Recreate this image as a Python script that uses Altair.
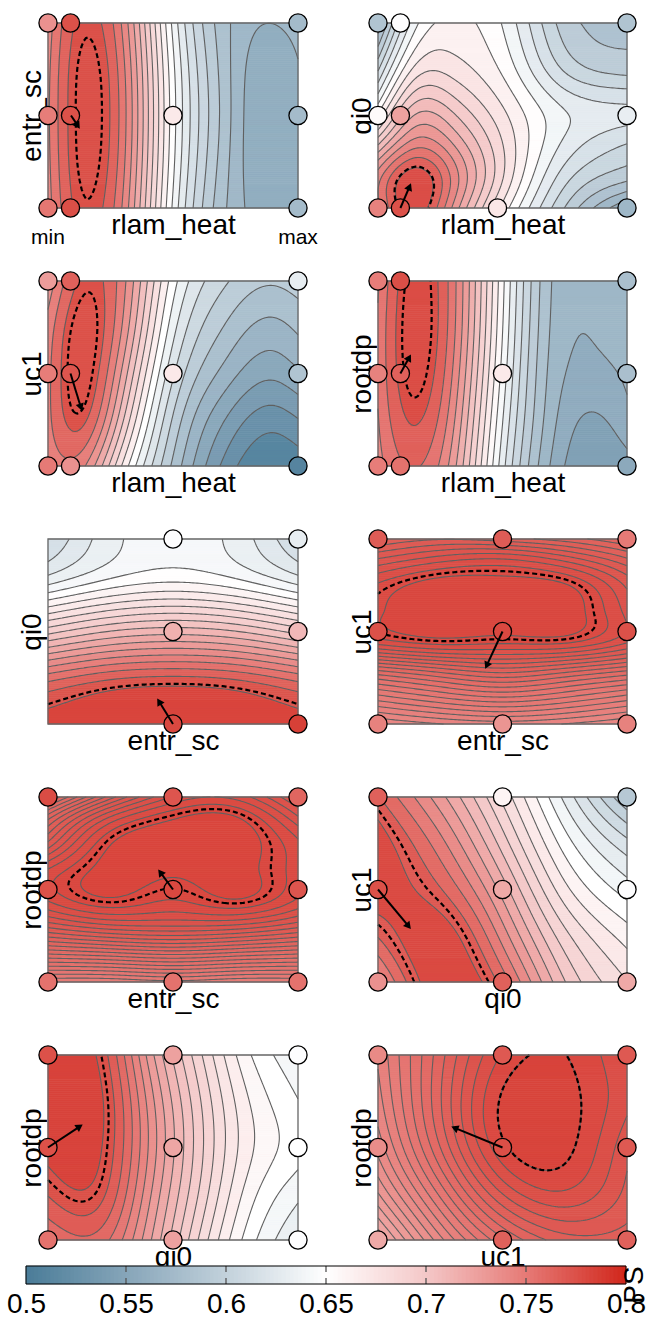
import numpy as np
import pandas as pd
import altair as alt

# ---------------- data ----------------
X_NAMES = ["rlam_heat", "rlam_heat", "rlam_heat", "rlam_heat", "entr_sc",
           "entr_sc", "entr_sc", "qi0", "qi0", "uc1"]
Y_NAMES = ["entr_sc", "qi0", "uc1", "rootdp", "qi0",
           "uc1", "rootdp", "uc1", "rootdp", "rootdp"]

# emulated PS surface at a few nodes (rows: y from 0 to 1)
SURF_XN = [
    [0, 0.13, 0.3, 0.5, 0.7, 0.87, 1],
    [0, 0.15, 0.3, 0.5, 0.75, 1],
    [0, 0.13, 0.3, 0.5, 0.7, 0.9, 1],
    [0, 0.13, 0.3, 0.5, 0.7, 0.88, 1],
    [0, 0.25, 0.5, 0.75, 1],
    [0, 0.25, 0.5, 0.75, 1],
    [0, 0.25, 0.5, 0.75, 1],
    [0, 0.25, 0.5, 0.75, 1],
    [0, 0.2, 0.4, 0.6, 0.8, 1],
    [0, 0.25, 0.5, 0.75, 1],
]
SURF_YN = [
    [0, 0.25, 0.5, 0.75, 1],
    [0, 0.15, 0.35, 0.5, 0.75, 1],
    [0, 0.25, 0.5, 0.75, 1],
    [0, 0.25, 0.5, 0.75, 1],
    [0, 0.2, 0.4, 0.6, 0.8, 1],
    [0, 0.15, 0.3, 0.45, 0.6, 0.75, 0.9, 1],
    [0, 0.15, 0.3, 0.45, 0.6, 0.75, 0.9, 1],
    [0, 0.25, 0.5, 0.75, 1],
    [0, 0.25, 0.5, 0.75, 1],
    [0, 0.25, 0.5, 0.75, 1],
]
SURF_PS = [
    [[0.742, 0.774, 0.745, 0.643, 0.580, 0.560, 0.565],
     [0.744, 0.778, 0.750, 0.648, 0.583, 0.556, 0.563],
     [0.745, 0.779, 0.752, 0.650, 0.585, 0.555, 0.563],
     [0.744, 0.778, 0.750, 0.648, 0.584, 0.558, 0.565],
     [0.741, 0.773, 0.744, 0.642, 0.582, 0.566, 0.570]],
    [[0.745, 0.778, 0.735, 0.665, 0.600, 0.555],
     [0.745, 0.780, 0.745, 0.680, 0.615, 0.590],
     [0.700, 0.742, 0.725, 0.680, 0.632, 0.612],
     [0.660, 0.715, 0.705, 0.672, 0.636, 0.626],
     [0.610, 0.672, 0.675, 0.655, 0.610, 0.596],
     [0.568, 0.642, 0.660, 0.645, 0.595, 0.590]],
    [[0.745, 0.745, 0.668, 0.585, 0.530, 0.505, 0.510],
     [0.750, 0.772, 0.700, 0.600, 0.548, 0.525, 0.532],
     [0.750, 0.781, 0.722, 0.618, 0.570, 0.550, 0.558],
     [0.745, 0.780, 0.738, 0.635, 0.588, 0.570, 0.577],
     [0.730, 0.770, 0.745, 0.650, 0.605, 0.590, 0.595]],
    [[0.742, 0.760, 0.728, 0.630, 0.562, 0.540, 0.546],
     [0.746, 0.772, 0.738, 0.638, 0.568, 0.5505, 0.5605],
     [0.748, 0.780, 0.746, 0.645, 0.572, 0.5612, 0.566],
     [0.748, 0.782, 0.751, 0.650, 0.5745, 0.5655, 0.569],
     [0.745, 0.780, 0.752, 0.653, 0.576, 0.567, 0.571]],
    [[0.782, 0.785, 0.786, 0.785, 0.782],
     [0.765, 0.775, 0.778, 0.775, 0.765],
     [0.720, 0.732, 0.736, 0.732, 0.720],
     [0.672, 0.685, 0.690, 0.685, 0.672],
     [0.630, 0.645, 0.651, 0.645, 0.630],
     [0.612, 0.635, 0.643, 0.635, 0.612]],
    [[0.740, 0.742, 0.743, 0.742, 0.740],
     [0.750, 0.753, 0.755, 0.753, 0.750],
     [0.762, 0.765, 0.767, 0.765, 0.762],
     [0.777, 0.779, 0.7785, 0.7785, 0.7740],
     [0.7795, 0.7815, 0.7815, 0.7812, 0.775],
     [0.778, 0.781, 0.7808, 0.7800, 0.773],
     [0.771, 0.774, 0.775, 0.772, 0.767],
     [0.765, 0.767, 0.766, 0.764, 0.761]],
    [[0.748, 0.748, 0.749, 0.748, 0.748],
     [0.760, 0.761, 0.762, 0.761, 0.760],
     [0.771, 0.7735, 0.774, 0.7735, 0.771],
     [0.778, 0.781, 0.7795, 0.7812, 0.7775],
     [0.778, 0.782, 0.7815, 0.782, 0.7785],
     [0.771, 0.781, 0.7825, 0.7825, 0.778],
     [0.764, 0.7755, 0.7805, 0.781, 0.774],
     [0.756, 0.768, 0.776, 0.777, 0.770]],
    [[0.738, 0.783, 0.760, 0.705, 0.675],
     [0.765, 0.781, 0.740, 0.688, 0.660],
     [0.781, 0.765, 0.720, 0.668, 0.640],
     [0.781, 0.748, 0.700, 0.650, 0.618],
     [0.765, 0.728, 0.682, 0.632, 0.585]],
    [[0.755, 0.760, 0.727, 0.685, 0.650, 0.630],
     [0.772, 0.775, 0.735, 0.693, 0.658, 0.640],
     [0.782, 0.781, 0.740, 0.697, 0.664, 0.649],
     [0.783, 0.782, 0.738, 0.695, 0.662, 0.646],
     [0.782, 0.778, 0.730, 0.688, 0.655, 0.640]],
    [[0.718, 0.740, 0.757, 0.766, 0.766],
     [0.731, 0.752, 0.771, 0.777, 0.770],
     [0.739, 0.761, 0.780, 0.782, 0.772],
     [0.743, 0.764, 0.7815, 0.7825, 0.775],
     [0.745, 0.763, 0.778, 0.781, 0.774]],
]

# design points (normalised position, PS value)
PT_X = [
    [0, 0.09, 1, 0, 0.09, 0.5, 1, 0, 0.09, 1],
    [0, 0.09, 1, 0, 0.09, 1, 0, 0.09, 0.48, 1],
    [0, 0.09, 1, 0, 0.09, 0.5, 1, 0, 0.09, 1],
    [0, 0.09, 1, 0, 0.09, 0.5, 1, 0, 0.09, 1],
    [0.5, 1, 0.5, 1, 0.5, 1],
    [0, 0.5, 1, 0, 0.5, 1, 0, 0.5, 1],
    [0, 0.5, 1, 0, 0.5, 1, 0, 0.5, 1],
    [0, 0.5, 1, 0, 0.5, 1, 0, 0.5, 1],
    [0, 0.5, 1, 0, 0.5, 1, 0, 0.5, 1],
    [0, 0.5, 1, 0, 0.5, 1, 0, 0.5, 1],
]
PT_Y = [
    [1, 1, 1, 0.5, 0.5, 0.5, 0.5, 0, 0, 0],
    [1, 1, 1, 0.5, 0.5, 0.5, 0, 0, 0, 0],
    [1, 1, 1, 0.5, 0.5, 0.5, 0.5, 0, 0, 0],
    [1, 1, 1, 0.5, 0.5, 0.5, 0.5, 0, 0, 0],
    [1, 1, 0.5, 0.5, 0, 0],
    [1, 1, 1, 0.5, 0.5, 0.5, 0, 0, 0],
    [1, 1, 1, 0.5, 0.5, 0.5, 0, 0, 0],
    [1, 1, 1, 0.5, 0.5, 0.5, 0, 0, 0],
    [1, 1, 1, 0.5, 0.5, 0.5, 0, 0, 0],
    [1, 1, 1, 0.5, 0.5, 0.5, 0, 0, 0],
]
PT_PS = [
    [0.735, 0.775, 0.575, 0.748, 0.775, 0.670, 0.575, 0.752, 0.776, 0.575],
    [0.585, 0.648, 0.585, 0.655, 0.725, 0.632, 0.745, 0.775, 0.672, 0.570],
    [0.728, 0.765, 0.630, 0.748, 0.772, 0.670, 0.585, 0.750, 0.735, 0.510],
    [0.748, 0.776, 0.580, 0.745, 0.765, 0.670, 0.580, 0.748, 0.755, 0.555],
    [0.648, 0.630, 0.715, 0.710, 0.780, 0.785],
    [0.768, 0.768, 0.750, 0.775, 0.780, 0.775, 0.745, 0.733, 0.745],
    [0.778, 0.772, 0.762, 0.775, 0.780, 0.772, 0.755, 0.755, 0.755],
    [0.765, 0.660, 0.590, 0.775, 0.720, 0.648, 0.735, 0.765, 0.720],
    [0.775, 0.725, 0.648, 0.775, 0.722, 0.650, 0.755, 0.725, 0.648],
    [0.740, 0.770, 0.770, 0.738, 0.776, 0.770, 0.720, 0.765, 0.765],
]

# gradient arrows
ARROW_X0 = [0.092, 0.09, 0.09, 0.09, 0.5, 0.5, 0.5, 0.0, 0.0, 0.5]
ARROW_Y0 = [0.5, 0.0, 0.5, 0.5, 0.0, 0.5, 0.5, 0.5, 0.5, 0.5]
ARROW_X1 = [0.128, 0.133, 0.136, 0.133, 0.436, 0.43, 0.44, 0.133, 0.14, 0.293]
ARROW_Y1 = [0.427, 0.135, 0.297, 0.605, 0.14, 0.297, 0.61, 0.285, 0.625, 0.614]

# dashed contour: offset from the top band boundary, in band steps
DASH_OFFSET = [0.6, -0.1, 0.5, 0.5, -0.2, -0.4, -0.4, -0.4, -0.4, 0.0]

CMAP_STOPS = [0.5, 0.55, 0.6, 0.65, 0.7, 0.75, 0.8]
CMAP_COLORS = ["#4a7c98", "#86a5b9", "#c2d1db", "#ffffff", "#f4c8c8", "#e67a76", "#d1271c"]
CB_TICKS = [0.5, 0.55, 0.6, 0.65, 0.7, 0.75, 0.8]
END_LABELS = ["min", "max"]

# ---------------- helpers ----------------
NBANDS = 20
NXC, NYC = 120, 90
NXF, NYF = 250, 92
PANEL_W = [250, 249]
PANEL_H = 185
FONT = "Liberation Sans"
TITLE_SIZE = 28


def nat_spline(xn, yn, xq):
    xn = np.asarray(xn, float)
    yn = np.asarray(yn, float)
    n = len(xn)
    h = np.diff(xn)
    A = np.zeros((n, n))
    b = np.zeros(n)
    A[0, 0] = 1
    A[-1, -1] = 1
    for i in range(1, n - 1):
        A[i, i - 1] = h[i - 1]
        A[i, i] = 2 * (h[i - 1] + h[i])
        A[i, i + 1] = h[i]
        b[i] = 6 * ((yn[i + 1] - yn[i]) / h[i] - (yn[i] - yn[i - 1]) / h[i - 1])
    M = np.linalg.solve(A, b)
    xq = np.asarray(xq, float)
    idx = np.clip(np.searchsorted(xn, xq) - 1, 0, n - 2)
    x0 = xn[idx]
    x1 = xn[idx + 1]
    hh = x1 - x0
    return (M[idx] * (x1 - xq) ** 3 / (6 * hh) + M[idx + 1] * (xq - x0) ** 3 / (6 * hh)
            + (yn[idx] / hh - M[idx] * hh / 6) * (x1 - xq)
            + (yn[idx + 1] / hh - M[idx + 1] * hh / 6) * (xq - x0))


def surface(xn, yn, Z, xq, yq):
    Z = np.asarray(Z, float)
    tmp = np.array([nat_spline(xn, row, xq) for row in Z])
    out = np.array([nat_spline(yn, tmp[:, k], yq) for k in range(len(xq))]).T
    return out


def contour_paths(Z, xs, ys, level):
    B = Z > level
    idx = B[:-1, :-1] * 1 + B[:-1, 1:] * 2 + B[1:, 1:] * 4 + B[1:, :-1] * 8
    js, iis = np.nonzero((idx != 0) & (idx != 15))
    adj = {}

    def link(a, b):
        adj.setdefault(a, []).append(b)
        adj.setdefault(b, []).append(a)

    for j, i in zip(js, iis):
        b00 = B[j, i]; b10 = B[j, i + 1]; b11 = B[j + 1, i + 1]; b01 = B[j + 1, i]
        bottom = ("h", j, i); top = ("h", j + 1, i)
        left = ("v", j, i); right = ("v", j, i + 1)
        cross = []
        if b00 != b10: cross.append(bottom)
        if b10 != b11: cross.append(right)
        if b11 != b01: cross.append(top)
        if b01 != b00: cross.append(left)
        if len(cross) == 2:
            link(cross[0], cross[1])
        else:
            c = (Z[j, i] + Z[j, i + 1] + Z[j + 1, i + 1] + Z[j + 1, i]) / 4 > level
            if b00 != c: link(bottom, left)
            if b10 != c: link(bottom, right)
            if b11 != c: link(top, right)
            if b01 != c: link(top, left)

    def pos(e):
        t_, j, i = e
        if t_ == "h":
            z0, z1 = Z[j, i], Z[j, i + 1]
            t = (level - z0) / (z1 - z0)
            return xs[i] + t * (xs[i + 1] - xs[i]), ys[j]
        z0, z1 = Z[j, i], Z[j + 1, i]
        t = (level - z0) / (z1 - z0)
        return xs[i], ys[j] + t * (ys[j + 1] - ys[j])

    visited = set()
    paths = []
    starts = [e for e in adj if len(adj[e]) == 1] + list(adj.keys())
    for s in starts:
        if s in visited:
            continue
        path = [s]
        visited.add(s)
        cur = s
        while True:
            nxt = [n for n in adj[cur] if n not in visited]
            if not nxt:
                if len(path) > 2 and s in adj[cur]:
                    path.append(s)
                break
            cur = nxt[0]
            visited.add(cur)
            path.append(cur)
        paths.append([pos(e) for e in path])
    return paths


CSCALE = alt.Scale(domain=CMAP_STOPS, range=CMAP_COLORS, interpolate="rgb", clamp=True)
XS = alt.Scale(domain=[0, 1], nice=False, zero=False)
YS = alt.Scale(domain=[0, 1], nice=False, zero=False)


def x_axis(title):
    return alt.Axis(title=title, labels=False, ticks=False, domain=False, grid=False,
                    titleFontSize=TITLE_SIZE, titleFont=FONT, titleFontWeight="normal",
                    titleColor="black", titlePadding=3)


def y_axis(title):
    return alt.Axis(title=title, labels=False, ticks=False, domain=False, grid=False,
                    titleFontSize=TITLE_SIZE, titleFont=FONT, titleFontWeight="normal",
                    titleColor="black", titlePadding=2)


def build_panel(k):
    col = k % 2
    W = PANEL_W[col]
    H = PANEL_H
    xn, yn, zz = SURF_XN[k], SURF_YN[k], SURF_PS[k]
    xs = np.linspace(0, 1, NXC)
    ys = np.linspace(0, 1, NYC)
    Zc = surface(xn, yn, zz, xs, ys)
    xf = (np.arange(NXF) + 0.5) / NXF
    yf = (np.arange(NYF) + 0.5) / NYF
    Zf = surface(xn, yn, zz, xf, yf)
    fmin = min(Zc.min(), Zf.min())
    fmax = max(Zc.max(), Zf.max())
    lev = np.linspace(fmin, fmax, NBANDS + 1)
    step = lev[1] - lev[0]
    mids = (lev[:-1] + lev[1:]) / 2
    band = np.clip(np.searchsorted(lev, Zf, side="right") - 1, 0, NBANDS - 1)

    rects = []
    for j in range(NYF):
        row = band[j]
        start = 0
        for i in range(1, NXF + 1):
            if i == NXF or row[i] != row[start]:
                rects.append((start / NXF, i / NXF, j / NYF, (j + 1) / NYF,
                              round(float(mids[row[start]]), 5)))
                start = i
    df_fill = pd.DataFrame(rects, columns=["x", "x2", "y", "y2", "v"])

    lrows = []
    for li, L in enumerate(lev[1:-1]):
        for pi, path in enumerate(contour_paths(Zc, xs, ys, L)):
            for o, (px, py) in enumerate(path):
                lrows.append((round(float(px), 4), round(float(py), 4), f"{li}_{pi}", o))
    df_lines = pd.DataFrame(lrows, columns=["x", "y", "g", "o"])

    dl = lev[-2] + DASH_OFFSET[k] * step
    drows = []
    for pi, path in enumerate(contour_paths(Zc, xs, ys, dl)):
        for o, (px, py) in enumerate(path):
            drows.append((round(float(px), 4), round(float(py), 4), f"d{pi}", o))
    df_dash = pd.DataFrame(drows, columns=["x", "y", "g", "o"])

    df_pts = pd.DataFrame({"x": PT_X[k], "y": PT_Y[k], "v": PT_PS[k]})

    x0, y0, x1, y1 = ARROW_X0[k], ARROW_Y0[k], ARROW_X1[k], ARROW_Y1[k]
    dxp = (x1 - x0) * W
    dyp = (y1 - y0) * H
    L = np.hypot(dxp, dyp)
    ux, uy = dxp / L, dyp / L
    back = 4.0
    hx = x1 - back * ux / W
    hy = y1 - back * uy / H
    ang = float(np.degrees(np.arctan2(dxp, dyp)) % 360)
    df_arrow = pd.DataFrame({"x": [x0], "y": [y0], "x2": [hx], "y2": [hy], "ang": [ang]})

    xa = x_axis(X_NAMES[k])
    ya = y_axis(Y_NAMES[k])

    def X(f="x"):
        return alt.X(f, type="quantitative", scale=XS, axis=xa)

    def Y(f="y"):
        return alt.Y(f, type="quantitative", scale=YS, axis=ya)

    fill = alt.Chart(df_fill).mark_rect(strokeWidth=0.8).encode(
        x=X(), x2="x2", y=Y(), y2="y2",
        color=alt.Color("v:Q", scale=CSCALE, legend=None),
        stroke=alt.Stroke("v:Q", scale=CSCALE, legend=None),
    )
    lines = alt.Chart(df_lines).mark_line(color="#606060", strokeWidth=1.1).encode(
        x=X(), y=Y(), detail="g:N", order="o:Q")
    dash = alt.Chart(df_dash).mark_line(color="black", strokeWidth=2.2, strokeDash=[5, 3]).encode(
        x=X(), y=Y(), detail="g:N", order="o:Q")
    frame = alt.Chart(pd.DataFrame({"x": [0], "x2": [1], "y": [0], "y2": [1]})).mark_rect(
        fillOpacity=0, stroke="#666666", strokeWidth=1.3).encode(x=X(), x2="x2", y=Y(), y2="y2")
    pts = alt.Chart(df_pts).mark_circle(size=330, stroke="black", strokeWidth=1.3, opacity=1).encode(
        x=X(), y=Y(), color=alt.Color("v:Q", scale=CSCALE, legend=None))
    arr = alt.Chart(df_arrow).mark_rule(color="black", strokeWidth=2).encode(
        x=X(), y=Y(), x2="x2", y2="y2")
    head = alt.Chart(df_arrow).mark_point(shape="triangle-up", filled=True, color="black",
                                          size=70, opacity=1).encode(
        x=X("x2"), y=Y("y2"), angle=alt.Angle("ang:Q", scale=None))
    layers = [fill, lines, dash, frame, pts, arr, head]
    if k == 0:
        df_end = pd.DataFrame({"x": [0, 1], "y": [0, 0], "t": END_LABELS})
        ends = alt.Chart(df_end).mark_text(fontSize=21, font=FONT, baseline="alphabetic",
                                           align="center", dy=36, color="black").encode(
            x=X(), y=Y(), text="t:N")
        layers.append(ends)
    return alt.layer(*layers).properties(width=W, height=H)


panels = [build_panel(k) for k in range(10)]

# ---------------- colorbar (11th cell of the grid, drawn 47 px higher) ----------------
cb_edges = np.linspace(CB_TICKS[0], CB_TICKS[-1], 151)
df_cb = pd.DataFrame({"x": cb_edges[:-1], "x2": cb_edges[1:], "y": 0.0, "y2": 1.0,
                      "v": (cb_edges[:-1] + cb_edges[1:]) / 2})
CBX = alt.Scale(domain=[CB_TICKS[0], CB_TICKS[-1]], range=[-22, 578], nice=False, zero=False)
CBY = alt.Scale(domain=[0, 1], range=[-29, -47], nice=False, zero=False)
cb_axis = alt.Axis(values=CB_TICKS, format=".2~f", labelFontSize=28, labelFont=FONT,
                   labelColor="black", ticks=False, domain=False, grid=False,
                   labelPadding=6, title="", labelFlush=False, offset=-47)


def CX(f="x"):
    return alt.X(f, type="quantitative", scale=CBX, axis=cb_axis)


def CY(f="y"):
    return alt.Y(f, type="quantitative", scale=CBY, axis=None)


cb_fill = alt.Chart(df_cb).mark_rect(strokeWidth=0.5).encode(
    x=CX(), x2="x2", y=CY(), y2="y2",
    color=alt.Color("v:Q", scale=CSCALE, legend=None),
    stroke=alt.Stroke("v:Q", scale=CSCALE, legend=None))
cb_ticks = alt.Chart(pd.DataFrame({"x": CB_TICKS[1:-1], "y": 1.0, "y2": 0.0})).mark_rule(
    color="#555555", strokeWidth=1.3, strokeDash=[6, 6]).encode(x=CX(), y=CY(), y2="y2")
cb_frame = alt.Chart(pd.DataFrame({"x": [CB_TICKS[0]], "x2": [CB_TICKS[-1]],
                                   "y": [0.0], "y2": [1.0]})).mark_rect(
    fillOpacity=0, stroke="black", strokeWidth=1).encode(x=CX(), x2="x2", y=CY(), y2="y2")
cb_title = alt.Chart(pd.DataFrame({"t": ["PS"]})).mark_text(
    angle=270, fontSize=28, font=FONT, align="center", baseline="middle", color="black").encode(
    text="t:N", x=alt.value(587), y=alt.value(-28))
colorbar = alt.layer(cb_fill, cb_ticks, cb_frame, cb_title).properties(width=250, height=18)

chart = alt.concat(*panels, colorbar, columns=2, spacing={"row": 73, "column": 80},
                   bounds="flush").properties(
    padding={"left": 6, "top": 11, "right": 0, "bottom": 2}
).configure(font=FONT).configure_view(strokeWidth=0)

chart.save("out.html", embed_options={"renderer": "svg", "actions": False})
